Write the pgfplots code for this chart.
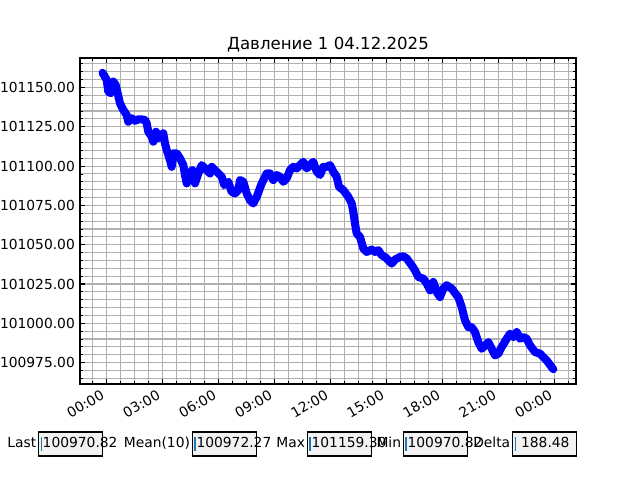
\documentclass[border=0pt]{standalone}
\usepackage{fontspec}
\setmainfont{DejaVu Sans}
\usepackage{pgfplots}
\pgfplotsset{compat=1.18}
\definecolor{gridc}{HTML}{B0B0B0}
\definecolor{boxfill}{gray}{0.95}
\definecolor{tabblue}{HTML}{1F77B4}
\begin{document}
\begin{tikzpicture}
\path[use as bounding box] (0,0) rectangle (460.8bp,345.6bp);
\begin{axis}[
  at={(57.6bp,69.12bp)}, anchor=south west,
  width=357.12bp, height=234.72bp, scale only axis,
  xmin=-1.43, xmax=25.14, ymin=100961.4, ymax=101168.72,
  scaled y ticks=false, scaled x ticks=false,
  xtick={0,3,6,9,12,15,18,21,24},
  xticklabels={00:00,03:00,06:00,09:00,12:00,15:00,18:00,21:00,00:00},
  minor xtick={-0.75,0.75,1.5,2.25,3.75,4.5,5.25,6.75,7.5,8.25,9.75,10.5,11.25,12.75,13.5,14.25,15.75,16.5,17.25,18.75,19.5,20.25,21.75,22.5,23.25,24.75},
  ytick={100975,101000,101025,101050,101075,101100,101125,101150},
  yticklabels={100975.00,101000.00,101025.00,101050.00,101075.00,101100.00,101125.00,101150.00},
  minor ytick={100965,100970,100980,100985,100990,100995,101005,101010,101015,101020,101030,101035,101040,101045,101055,101060,101065,101070,101080,101085,101090,101095,101105,101110,101115,101120,101130,101135,101140,101145,101155,101160,101165},
  grid=both,
  grid style={gridc, line width=0.8bp},
  minor grid style={gridc, line width=0.8bp},
  major grid style={gridc, line width=0.8bp},
  tick align=inside, tick pos=both,
  major tick length=3.5bp, minor tick length=2bp,
  every tick/.style={black, line width=0.8bp},
  every minor tick/.append style={line width=0.6bp},
  axis line style={black, line width=0.8bp},
  xticklabel style={xshift=-4.85bp, yshift=-3.5bp, rotate=30, anchor=north east, inner sep=0pt, text height=7.6bp, text depth=2.1bp, font=\fontsize{10}{12}\selectfont},
  yticklabel style={xshift=-3.5bp, anchor=east, inner sep=0pt, font=\fontsize{10}{12}\selectfont},
]
\addplot[color={rgb,255:red,0;green,0;blue,255}, line width=5.8bp, line join=round, line cap=round] table {
x y
-0.22 101159.3
0.00 101154.8
0.086 101147.3
0.214 101146.3
0.354 101153.7
0.482 101151.6
0.589 101146.3
0.713 101139.9
0.889 101135.7
1.071 101132.5
1.157 101128.2
1.339 101130.4
1.516 101128.8
1.693 101129.7
1.875 101129.7
2.052 101129.3
2.143 101127.2
2.229 101121.8
2.411 101118.7
2.496 101115.5
2.641 101121.8
2.764 101117.6
3.032 101120.8
3.123 101114.4
3.214 101110.2
3.391 101103.8
3.482 101099.5
3.568 101108.1
3.750 101108.1
3.927 101104.9
4.104 101100.6
4.195 101094.3
4.286 101089.0
4.462 101095.3
4.586 101097.4
4.730 101089.0
4.907 101095.3
5.089 101100.6
5.266 101098.5
5.534 101095.3
5.625 101099.5
5.893 101096.4
6.161 101093.2
6.300 101087.9
6.514 101090.0
6.696 101083.6
6.873 101082.6
7.050 101084.7
7.141 101091.1
7.318 101090.0
7.500 101082.6
7.677 101078.3
7.854 101076.2
8.036 101080.4
8.304 101089.0
8.571 101095.3
8.748 101095.3
8.925 101091.1
9.107 101094.3
9.284 101093.2
9.461 101090.0
9.643 101092.2
9.820 101097.4
9.996 101099.5
10.178 101098.5
10.355 101100.6
10.532 101102.7
10.714 101098.5
10.891 101100.6
11.068 101102.7
11.250 101096.4
11.427 101094.3
11.604 101099.5
11.786 101099.5
11.962 101100.6
12.139 101096.4
12.321 101093.2
12.444 101086.8
12.675 101084.7
12.943 101080.4
13.125 101076.2
13.211 101070.9
13.302 101063.5
13.393 101057.1
13.570 101054.9
13.746 101047.6
13.928 101045.4
14.196 101046.9
14.373 101045.4
14.550 101046.5
14.732 101043.3
14.909 101042.2
15.086 101040.1
15.268 101038.0
15.445 101040.5
15.713 101042.2
15.889 101042.6
16.071 101041.2
16.339 101036.9
16.516 101033.7
16.693 101029.5
16.961 101028.4
17.143 101025.3
17.320 101021.0
17.496 101026.3
17.678 101019.9
17.855 101016.7
18.032 101022.1
18.214 101024.2
18.482 101022.1
18.750 101017.8
18.836 101016.7
19.018 101010.3
19.195 101001.9
19.371 100997.6
19.553 100997.6
19.730 100994.4
19.907 100988.0
20.089 100983.8
20.266 100985.9
20.443 100988.0
20.625 100983.8
20.802 100979.6
20.979 100980.7
21.161 100984.9
21.429 100990.2
21.605 100993.4
21.782 100991.2
21.964 100994.4
22.141 100990.2
22.318 100991.2
22.500 100990.2
22.677 100986.0
22.945 100981.7
23.212 100980.7
23.389 100978.5
23.571 100976.4
23.839 100972.1
23.925 100970.82
};
\end{axis}
% title
\node[anchor=base, inner sep=0pt, font=\fontsize{12}{14.4}\selectfont] at (236.16bp,309.6bp) {Давление 1 04.12.2025};
% text boxes
\foreach \L/\V in {27.65bp/100970.82, 138.38bp/100972.27, 221.26bp/101159.30, 290.38bp/100970.82, 368.93bp/{\ 188.48}} {
  \draw[fill=boxfill, line width=0.8bp] (\L,17.28bp) rectangle ++(46.08bp,17.28bp);
  \draw[tabblue, line width=1.3bp] ([xshift=2.2bp]\L,20.88bp) -- ([xshift=2.2bp]\L,30.96bp);
  \node[anchor=west, inner sep=0pt, text height=7.6bp, text depth=2.1bp, font=\fontsize{10}{12}\selectfont] at ([xshift=2.9bp]\L,25.92bp) {\V};
}
\foreach \L/\T in {27.65bp/Last, 138.38bp/Mean(10), 221.26bp/Max, 290.38bp/Min, 368.93bp/Delta} {
  \node[anchor=east, inner sep=0pt, text height=7.6bp, text depth=2.1bp, font=\fontsize{10}{12}\selectfont] at ([xshift=-1.4bp]\L,25.92bp) {\T};
}
\end{tikzpicture}
\end{document}
